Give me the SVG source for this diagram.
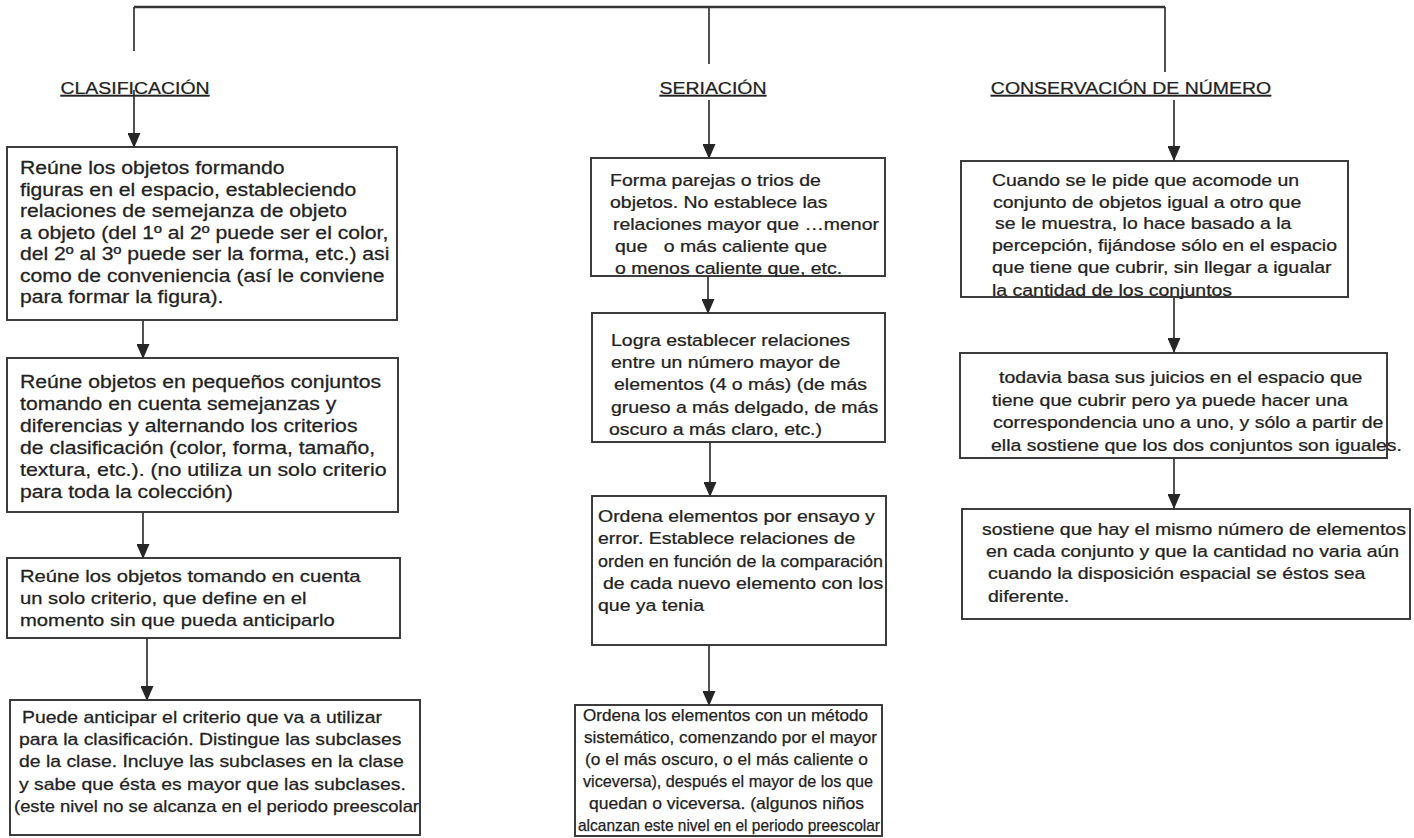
<svg xmlns="http://www.w3.org/2000/svg" width="1414" height="838" viewBox="0 0 1414 838">
<defs>
<marker id="ah" markerUnits="userSpaceOnUse" markerWidth="15" markerHeight="13" refX="15" refY="6.5" orient="auto">
<path d="M0,0 L15,6.5 L0,13 Z" fill="#262626"/>
</marker>
<style>
.box{fill:none;stroke:#333;stroke-width:1.9}
.ln{fill:none;stroke:#333;stroke-width:1.7}
.ar{fill:none;stroke:#333;stroke-width:1.7;marker-end:url(#ah)}
text{font-family:"Liberation Sans",Arial,sans-serif;font-size:16.5px;fill:#222;stroke:#222;stroke-width:0.25}
.h{text-decoration:underline}
.big{font-size:17.5px}
.mid{font-size:17px}
.pre{white-space:pre}
</style>
</defs>
<rect width="1414" height="838" fill="#fff"/>
<g id="connectors">
<line class="ln" x1="134" y1="7" x2="1165" y2="7" style="stroke-width:2.3"/>
<line class="ln" x1="134" y1="7" x2="134" y2="51"/>
<line class="ln" x1="709" y1="7" x2="709" y2="64"/>
<line class="ln" x1="1165" y1="7" x2="1165" y2="72"/>
<line class="ar" x1="134" y1="90" x2="134" y2="148"/>
<line class="ar" x1="709" y1="100" x2="709" y2="159"/>
<line class="ar" x1="1174" y1="100" x2="1174" y2="161"/>
<line class="ar" x1="143" y1="320" x2="143" y2="359"/>
<line class="ar" x1="143" y1="512" x2="143" y2="559"/>
<line class="ar" x1="147" y1="638" x2="147" y2="701"/>
<line class="ar" x1="708" y1="276" x2="708" y2="314"/>
<line class="ar" x1="710" y1="442" x2="710" y2="497"/>
<line class="ar" x1="709" y1="645" x2="709" y2="706"/>
<line class="ar" x1="1174" y1="297" x2="1174" y2="353"/>
<line class="ar" x1="1174" y1="458" x2="1174" y2="509"/>
</g>
<g id="h-clasificacion"><text class="h" text-anchor="middle" transform="translate(135 94) scale(1.18 1)">CLASIFICACIÓN</text></g>
<g id="h-seriacion"><text class="h" text-anchor="middle" transform="translate(713 94) scale(1.18 1)">SERIACIÓN</text></g>
<g id="h-conservacion"><text class="h" text-anchor="middle" transform="translate(1131 94) scale(1.18 1)">CONSERVACIÓN DE NÚMERO</text></g>

<g id="c1">
<rect class="box" x="7" y="147" width="390" height="173"/>
<text class="big" transform="translate(20 174) scale(1.21 1)">Reúne los objetos formando</text>
<text class="big" transform="translate(20 195.5) scale(1.21 1)">figuras en el espacio, estableciendo</text>
<text class="big" transform="translate(20 217) scale(1.21 1)">relaciones de semejanza de objeto</text>
<text class="big" transform="translate(20 238.5) scale(1.21 1)">a objeto (del 1º al 2º puede ser el color,</text>
<text class="big" transform="translate(20 260) scale(1.21 1)">del 2º al 3º puede ser la forma, etc.) asi</text>
<text class="big" transform="translate(20 281.5) scale(1.21 1)">como de conveniencia (así le conviene</text>
<text class="big" transform="translate(20 303) scale(1.21 1)">para formar la figura).</text>
</g>
<g id="c2">
<rect class="box" x="7" y="358" width="391" height="154"/>
<text class="big" transform="translate(20 388) scale(1.21 1)">Reúne objetos en pequeños conjuntos</text>
<text class="big" transform="translate(20 410) scale(1.21 1)">tomando en cuenta semejanzas y</text>
<text class="big" transform="translate(20 432) scale(1.21 1)">diferencias y alternando los criterios</text>
<text class="big" transform="translate(20 454) scale(1.21 1)">de clasificación (color, forma, tamaño,</text>
<text class="big" transform="translate(20 476) scale(1.22 1)">textura, etc.). (no utiliza un solo criterio</text>
<text class="big" transform="translate(20 498) scale(1.21 1)">para toda la colección)</text>
</g>
<g id="c3">
<rect class="box" x="7" y="558" width="393" height="80"/>
<text class="mid" transform="translate(20 582) scale(1.19 1)">Reúne los objetos tomando en cuenta</text>
<text class="mid" transform="translate(20 604) scale(1.19 1)">un solo criterio, que define en el</text>
<text class="mid" transform="translate(20 626) scale(1.19 1)">momento sin que pueda anticiparlo</text>
</g>
<g id="c4">
<rect class="box" x="10" y="700" width="410" height="135"/>
<text transform="translate(22 723) scale(1.175 1)">Puede anticipar el criterio que va a utilizar</text>
<text transform="translate(19 745) scale(1.175 1)">para la clasificación. Distingue las subclases</text>
<text transform="translate(19 767) scale(1.175 1)">de la clase. Incluye las subclases en la clase</text>
<text transform="translate(19 790) scale(1.175 1)">y sabe que ésta es mayor que las subclases.</text>
<text x="14" y="812" textLength="405" lengthAdjust="spacingAndGlyphs">(este nivel no se alcanza en el periodo preescolar</text>
</g>

<g id="s1">
<rect class="box" x="591" y="158" width="294" height="118"/>
<text transform="translate(610 186) scale(1.18 1)">Forma parejas o trios de</text>
<text transform="translate(610 208) scale(1.18 1)">objetos. No establece las</text>
<text transform="translate(613 230) scale(1.18 1)">relaciones mayor que …menor</text>
<text class="pre" xml:space="preserve" transform="translate(615 252) scale(1.18 1)">que   o más caliente que</text>
<text transform="translate(615 274) scale(1.18 1)">o menos caliente que, etc.</text>
</g>
<g id="s2">
<rect class="box" x="592" y="313" width="293" height="129"/>
<text transform="translate(611 346) scale(1.18 1)">Logra establecer relaciones</text>
<text transform="translate(611 368) scale(1.18 1)">entre un número mayor de</text>
<text transform="translate(614 390) scale(1.18 1)">elementos (4 o más) (de más</text>
<text transform="translate(611 413) scale(1.18 1)">grueso a más delgado, de más</text>
<text transform="translate(609 435) scale(1.18 1)">oscuro a más claro, etc.)</text>
</g>
<g id="s3">
<rect class="box" x="592" y="496" width="294" height="149"/>
<text transform="translate(598 522) scale(1.18 1)">Ordena elementos por ensayo y</text>
<text transform="translate(598 544) scale(1.18 1)">error. Establece relaciones de</text>
<text x="598" y="567" textLength="285" lengthAdjust="spacingAndGlyphs">orden en función de la comparación</text>
<text transform="translate(603 589) scale(1.18 1)">de cada nuevo elemento con los</text>
<text transform="translate(598 611) scale(1.18 1)">que ya tenia</text>
</g>
<g id="s4">
<rect class="box" x="575" y="705" width="307" height="131"/>
<text x="583" y="721" textLength="285" lengthAdjust="spacingAndGlyphs">Ordena los elementos con un método</text>
<text x="584" y="743" textLength="293" lengthAdjust="spacingAndGlyphs">sistemático, comenzando por el mayor</text>
<text x="585" y="765" textLength="283" lengthAdjust="spacingAndGlyphs">(o el más oscuro, o el más caliente o</text>
<text x="583" y="787" textLength="290" lengthAdjust="spacingAndGlyphs">viceversa), después el mayor de los que</text>
<text x="589" y="809" textLength="275" lengthAdjust="spacingAndGlyphs">quedan o viceversa. (algunos niños</text>
<text x="578" y="831" textLength="302" lengthAdjust="spacingAndGlyphs">alcanzan este nivel en el periodo preescolar</text>
</g>

<g id="n1">
<rect class="box" x="961" y="161" width="387" height="136"/>
<text transform="translate(992 186) scale(1.18 1)">Cuando se le pide que acomode un</text>
<text transform="translate(993 208) scale(1.18 1)">conjunto de objetos igual a otro que</text>
<text transform="translate(995 229) scale(1.18 1)">se le muestra, lo hace basado a la</text>
<text transform="translate(992 251) scale(1.18 1)">percepción, fijándose sólo en el espacio</text>
<text transform="translate(992 273) scale(1.18 1)">que tiene que cubrir, sin llegar a igualar</text>
<text transform="translate(992 296) scale(1.18 1)">la cantidad de los conjuntos</text>
</g>
<g id="n2">
<rect class="box" x="960" y="353" width="427" height="105"/>
<text transform="translate(999 383) scale(1.18 1)">todavia basa sus juicios en el espacio que</text>
<text transform="translate(992 406) scale(1.18 1)">tiene que cubrir pero ya puede hacer una</text>
<text transform="translate(993 428) scale(1.18 1)">correspondencia uno a uno, y sólo a partir de</text>
<text transform="translate(991 451) scale(1.18 1)">ella sostiene que los dos conjuntos son iguales.</text>
</g>
<g id="n3">
<rect class="box" x="962" y="509" width="448" height="110"/>
<text transform="translate(982 535) scale(1.18 1)">sostiene que hay el mismo número de elementos</text>
<text transform="translate(986 557) scale(1.18 1)">en cada conjunto y que la cantidad no varia aún</text>
<text transform="translate(988 579) scale(1.18 1)">cuando la disposición espacial se éstos sea</text>
<text transform="translate(988 602) scale(1.18 1)">diferente.</text>
</g>
</svg>
